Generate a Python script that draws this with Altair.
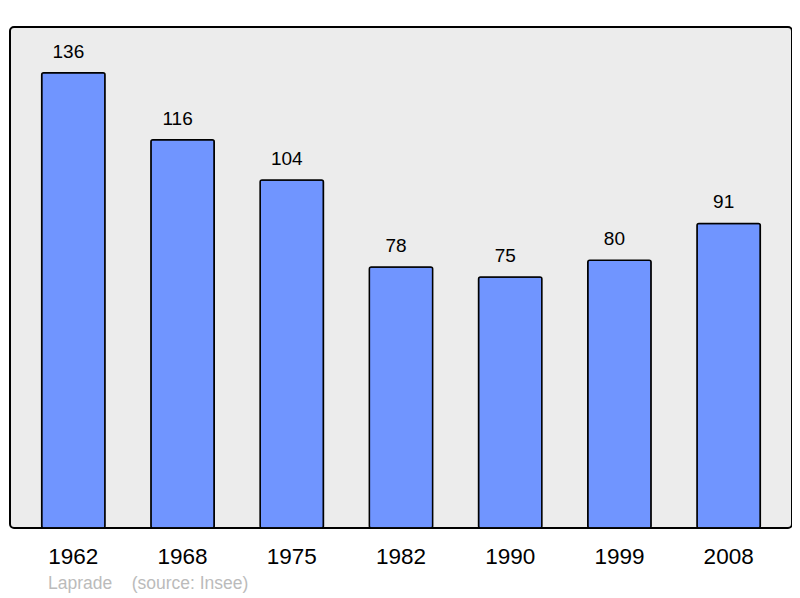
import altair as alt
import pandas as pd

years = ["1962", "1968", "1975", "1982", "1990", "1999", "2008"]
population = [136, 116, 104, 78, 75, 80, 91]
footer_text = ["Laprade\u00a0\u00a0\u00a0\u00a0(source: Insee)"]

df = pd.DataFrame({"year": years, "pop": population})
FONT = "Liberation Sans"

x = alt.X("year:N", sort=years, title=None,
          scale=alt.Scale(paddingInner=0.42, paddingOuter=0.29),
          axis=alt.Axis(labelAngle=0, ticks=False, domain=False, labelPadding=17,
                        labelFontSize=22.5, labelColor="#000000", labelFont=FONT))
y = alt.Y("pop:Q", title=None, scale=alt.Scale(domain=[0, 149.7], nice=False),
          axis=None)

bars = alt.Chart(df).mark_bar(color="#7095ff", stroke="#000000", strokeWidth=1.5,
                              cornerRadius=2).encode(x=x, y=y)
labels = alt.Chart(df).mark_text(baseline="bottom", dy=-11, dx=-5, fontSize=19, font=FONT,
                                 color="#000000").encode(x=x, y=y, text="pop:Q")
footer = alt.Chart(pd.DataFrame({"t": footer_text})).mark_text(
    align="left", baseline="middle", fontSize=17.5, font=FONT, color="#bbbbbb"
).encode(x=alt.value(38), y=alt.value(557), text="t:N")

chart = alt.layer(bars, labels, footer).properties(
    width=782, height=501,
    padding={"left": 2, "top": 19, "right": 0, "bottom": 0},
).configure_view(
    fill="#ececec", stroke="#000000", strokeWidth=2, cornerRadius=4
)

chart.save("out.html", embed_options={"renderer": "svg", "actions": False})
